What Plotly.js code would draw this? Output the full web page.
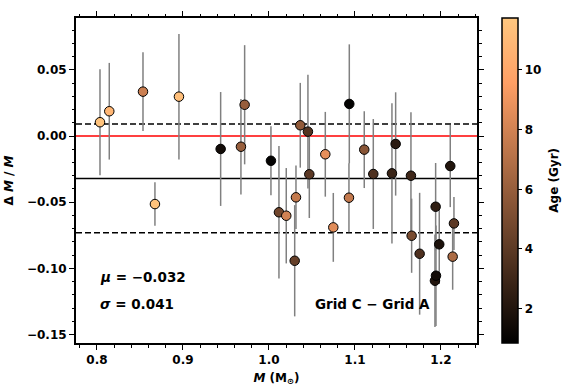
<!DOCTYPE html>
<html>
<head>
<meta charset="utf-8">
<script src="https://cdn.plot.ly/plotly-3.0.1.min.js"></script>
<style>
  html, body { margin: 0; padding: 0; background: #fff; }
  #chart { width: 571px; height: 389px; }
</style>
</head>
<body>
<div id="chart"></div>
<script>
// Mass offsets between grids
var mass = [0.8035, 0.8143, 0.8535, 0.8953, 0.8674, 0.9438, 0.9717, 0.9674, 1.0023, 1.0364,
            1.0453, 1.0469, 1.0655, 1.0934, 1.1108, 1.1213, 1.1430, 1.1473, 1.1651, 1.1659,
            1.1752, 1.1938, 1.1980, 1.1930, 1.1942, 1.2108, 1.2151, 1.2136, 1.0116, 1.0201,
            1.0314, 1.0299, 1.0748, 1.0930];
var dMass = [0.0104, 0.0187, 0.0335, 0.0297, -0.0514, -0.0098, 0.0236, -0.0081, -0.0187, 0.0081,
             0.0033, -0.0289, -0.0138, 0.0242, -0.0103, -0.0287, -0.0282, -0.0060, -0.0300, -0.0753,
             -0.0889, -0.0534, -0.0818, -0.1093, -0.1055, -0.0227, -0.0660, -0.0911, -0.0576, -0.0602,
             -0.0463, -0.0942, -0.0690, -0.0466];
var dMassErr = [0.040, 0.0365, 0.0297, 0.0474, 0.0164, 0.043, 0.045, 0.036, 0.026, 0.032,
                0.043, 0.033, 0.032, 0.045, 0.029, 0.0415, 0.053, 0.039, 0.048, 0.028,
                0.046, 0.033, 0.030, 0.035, 0.038, 0.031, 0.020, 0.025, 0.050, 0.036,
                0.024, 0.042, 0.026, 0.026];
var age = [11.5, 10.8, 7.8, 11.3, 11.5, 1.5, 6.0, 6.0, 1.0, 5.8,
           3.7, 4.0, 8.7, 1.0, 5.5, 3.5, 2.8, 2.3, 3.0, 5.0,
           3.5, 2.5, 1.8, 2.0, 1.5, 2.0, 4.0, 6.7, 4.7, 8.0,
           7.5, 4.3, 8.5, 7.5];

var MU = -0.032;
var SIGMA = 0.041;
var AGE_MIN = 0.85;
var AGE_MAX = 11.74;

var FONT = 'DejaVu Sans, sans-serif';

// matplotlib "copper"
var copper = [[0, 'rgb(0,0,0)'], [0.8, 'rgb(255,159,101)'], [1, 'rgb(255,199,127)']];

var labelFont = { family: FONT, size: 12, color: '#000', weight: 'bold' };
var noteFont = { family: FONT, size: 13.5, color: '#000', weight: 'bold' };

var trace = {
    x: mass,
    y: dMass,
    mode: 'markers',
    type: 'scatter',
    error_y: { type: 'data', array: dMassErr, visible: true, color: '#808080', thickness: 1.5, width: 0 },
    marker: {
        size: 9.5,
        color: age,
        colorscale: copper,
        cmin: AGE_MIN,
        cmax: AGE_MAX,
        line: { color: '#000', width: 1 },
        showscale: true,
        colorbar: {
            x: 1.062, xanchor: 'left', xpad: 0,
            y: 0, yanchor: 'bottom', len: 1, lenmode: 'fraction', ypad: 0,
            thickness: 16,
            outlinewidth: 1.5, outlinecolor: '#000',
            ticks: 'outside', ticklen: 4, tickwidth: 1, tickcolor: '#000',
            tickvals: [2, 4, 6, 8, 10],
            tickfont: labelFont
        }
    },
    showlegend: false,
    hoverinfo: 'x+y'
};

function hline(y, color, dash) {
    return { type: 'line', xref: 'paper', x0: 0, x1: 1, yref: 'y', y0: y, y1: y,
             line: { color: color, width: 1.5, dash: dash }, layer: 'below' };
}

var axisCommon = {
    showline: true, linecolor: '#000', linewidth: 2, mirror: 'allticks',
    ticks: 'outside', ticklen: 5, tickwidth: 1, tickcolor: '#000',
    showgrid: false, zeroline: false,
    tickfont: labelFont
};

var layout = {
    width: 571, height: 389,
    margin: { l: 76, r: 94, t: 18, b: 46 },
    paper_bgcolor: '#fff', plot_bgcolor: '#fff',
    xaxis: Object.assign({}, axisCommon, {
        range: [0.7756, 1.2419], dtick: 0.1, tickformat: '.1f',
        minor: { dtick: 0.02, ticks: 'outside', ticklen: 2.5, tickcolor: '#000', tickwidth: 1 },
        title: { text: '<i>M</i> (M<sub>⊙</sub>)', standoff: 7, font: labelFont }
    }),
    yaxis: Object.assign({}, axisCommon, {
        range: [-0.1563, 0.0891], dtick: 0.05, tickformat: '.2f',
        minor: { dtick: 0.01, ticks: 'outside', ticklen: 2.5, tickcolor: '#000', tickwidth: 1 },
        title: { text: 'Δ <i>M</i> / <i>M</i>', standoff: 11, font: labelFont }
    }),
    shapes: [
        hline(0, '#ff0000', 'solid'),
        hline(MU, '#000', 'solid'),
        hline(MU + SIGMA, '#000', '6px,3px'),
        hline(MU - SIGMA, '#000', '6px,3px')
    ],
    annotations: [
        { xref: 'paper', yref: 'paper', x: 0.054, y: 0.202, xanchor: 'left', yanchor: 'middle', showarrow: false,
          text: '<i>μ</i> = −' + Math.abs(MU).toFixed(3), font: noteFont },
        { xref: 'paper', yref: 'paper', x: 0.054, y: 0.12, xanchor: 'left', yanchor: 'middle', showarrow: false,
          text: '<i>σ</i> = ' + SIGMA.toFixed(3), font: noteFont },
        { xref: 'paper', yref: 'paper', x: 0.59, y: 0.12, xanchor: 'left', yanchor: 'middle', showarrow: false,
          text: 'Grid C − Grid A', font: noteFont },
        // colour bar title
        { xref: 'paper', yref: 'paper', x: 1.19, y: 0.5, xanchor: 'center', yanchor: 'middle', showarrow: false,
          textangle: -90, text: 'Age (Gyr)', font: labelFont }
    ]
};

Plotly.newPlot('chart', [trace], layout, { displayModeBar: false, staticPlot: true });
</script>
</body>
</html>
